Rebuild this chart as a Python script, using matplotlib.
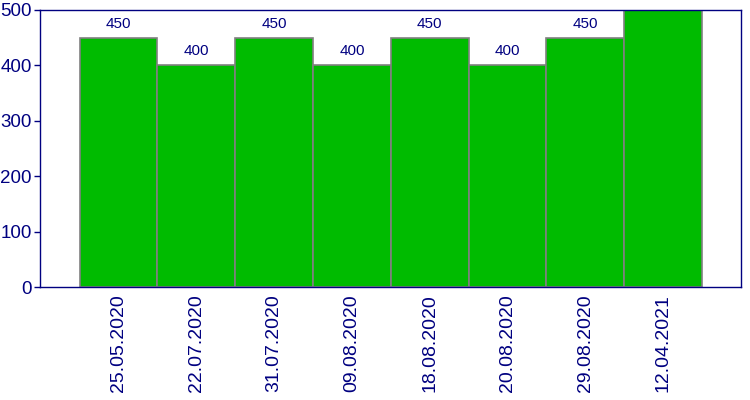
import matplotlib
matplotlib.use("Agg")
import matplotlib.pyplot as plt

plt.rcParams['font.family'] = ['Liberation Sans', 'DejaVu Sans']

dates = ["25.05.2020", "22.07.2020", "31.07.2020", "09.08.2020",
         "18.08.2020", "20.08.2020", "29.08.2020", "12.04.2021"]
values = [450, 400, 450, 400, 450, 400, 450, 500]
yticks = [0, 100, 200, 300, 400, 500]

navy = "#000080"
fig = plt.figure(figsize=(7.5, 4), dpi=100)
ax = fig.add_axes([40/750, 1-287/400, 701/750, 277/400])
x = list(range(len(values)))
bars = ax.bar(x, values, width=1.0, color="#00BB00", edgecolor="#808080", linewidth=1.2)
for xi, v in zip(x, values):
    ax.annotate(str(v), (xi, v), xytext=(0, 7.2), textcoords="offset points",
                ha="center", va="baseline", fontsize=11, color=navy, annotation_clip=False)
ax.set_xlim(-1.01, 8.0)
ax.set_ylim(0, 500)
ax.set_yticks(yticks)
ax.set_yticklabels([str(t) for t in yticks], fontsize=13.5, color=navy)
ax.set_xticks(x)
ax.set_xticklabels(dates, rotation=90, fontsize=14, color=navy)
ax.tick_params(axis='x', length=0, pad=5)
ax.tick_params(axis='y', length=4, color=navy, width=1, pad=2)
for s in ax.spines.values():
    s.set_color(navy)
    s.set_linewidth(1)
fig.savefig("out.png", dpi=100)
